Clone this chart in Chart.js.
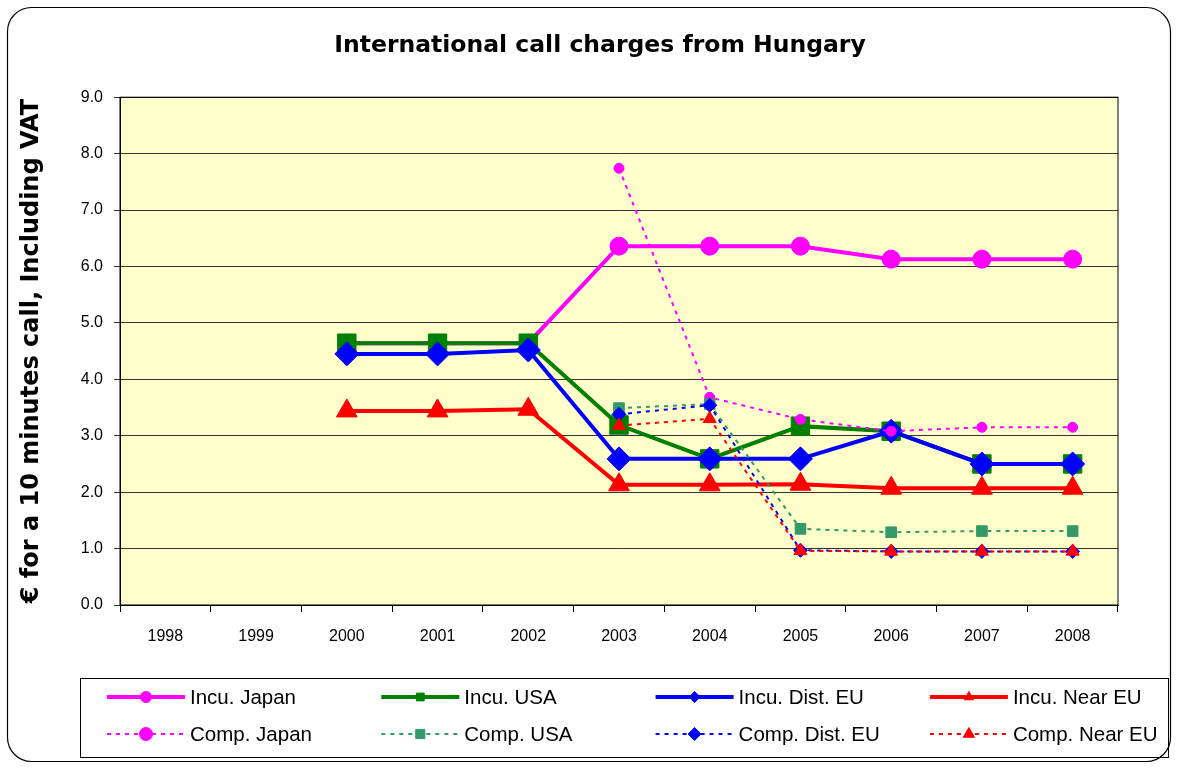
<!DOCTYPE html>
<html>
<head>
<meta charset="utf-8">
<title>International call charges from Hungary</title>
<script src="https://cdn.jsdelivr.net/npm/chart.js@4.4.1/dist/chart.umd.min.js"></script>
<style>
  html, body { margin: 0; padding: 0; background: #fff; }
  canvas { display: block; }
</style>
</head>
<body>
<canvas id="chart" width="1178" height="769"></canvas>
<script>
var years = ['1998', '1999', '2000', '2001', '2002', '2003', '2004', '2005', '2006', '2007', '2008'];

// incumbent operator
var incuJapan  = [null, null, 4.64, 4.64, 4.64, 6.36, 6.36, 6.36, 6.13, 6.13, 6.13];
var incuUsa    = [null, null, 4.64, 4.64, 4.64, 3.19, 2.59, 3.17, 3.08, 2.50, 2.50];
var incuDistEu = [null, null, 4.45, 4.45, 4.52, 2.59, 2.59, 2.59, 3.08, 2.50, 2.50];
var incuNearEu = [null, null, 3.44, 3.44, 3.47, 2.13, 2.13, 2.14, 2.07, 2.07, 2.07];

// competitors
var compJapan  = [null, null, null, null, null, 7.74, 3.68, 3.29, 3.08, 3.15, 3.15];
var compUsa    = [null, null, null, null, null, 3.49, 3.56, 1.35, 1.29, 1.31, 1.31];
var compDistEu = [null, null, null, null, null, 3.38, 3.54, 0.97, 0.95, 0.95, 0.95];
var compNearEu = [null, null, null, null, null, 3.18, 3.30, 0.96, 0.95, 0.95, 0.95];

var yMin = 0, yMax = 9, yStep = 1;

var FONT = '"Liberation Sans", Arial, sans-serif';
var WIDE = '"DejaVu Sans", Verdana, sans-serif';

function series(label, data, color, style, radius, solid) {
  return {
    label: label,
    data: data,
    borderColor: color,
    backgroundColor: color,
    borderWidth: solid ? 4 : 2,
    borderDash: solid ? [] : [4, 5],
    pointStyle: style,
    pointRadius: radius,
    pointHoverRadius: radius,
    pointBackgroundColor: color,
    pointBorderColor: color,
    pointBorderWidth: 1,
    tension: 0
  };
}

var datasets = [
  series('Incu. Japan', incuJapan, '#FF00FF', 'circle', 9, true),
  series('Incu. USA', incuUsa, '#008000', 'rect', 13, true),
  series('Incu. Dist. EU', incuDistEu, '#0000FF', 'rectRot', 12, true),
  series('Incu. Near EU', incuNearEu, '#FF0000', 'triangle', 12, true),
  series('Comp. Japan', compJapan, '#FF00FF', 'circle', 5, false),
  series('Comp. USA', compUsa, '#339966', 'rect', 7.5, false),
  series('Comp. Dist. EU', compDistEu, '#0000FF', 'rectRot', 7, false),
  series('Comp. Near EU', compNearEu, '#FF0000', 'triangle', 7.5, false)
];
// later series sit on top
datasets.forEach(function (d, i) { d.order = datasets.length - i; });

var framePlugin = {
  id: 'frame',
  beforeDraw: function (chart) {
    var c = chart.ctx, a = chart.chartArea;
    c.save();
    c.fillStyle = '#fff';
    c.fillRect(0, 0, chart.width, chart.height);
    c.beginPath();
    c.roundRect(7.5, 7.5, 1163, 754, 24);
    c.lineWidth = 1.2;
    c.strokeStyle = '#000';
    c.stroke();
    c.fillStyle = '#FFFFCC';
    c.fillRect(a.left, a.top, a.right - a.left, a.bottom - a.top);
    c.restore();
  },
  beforeDatasetsDraw: function (chart) {
    var c = chart.ctx, a = chart.chartArea;
    c.save();
    c.lineWidth = 1;
    c.strokeStyle = '#000';
    c.strokeRect(a.left, a.top, a.right - a.left, a.bottom - a.top);
    c.restore();
  },
  afterDraw: function (chart) {
    var c = chart.ctx;
    c.save();
    c.lineWidth = 1;
    c.strokeStyle = '#000';
    c.strokeRect(80.5, 678.5, 1088, 79);
    c.font = '20.5px ' + FONT;
    c.textBaseline = 'middle';
    c.textAlign = 'left';
    chart.data.datasets.forEach(function (d, i) {
      var col = i % 4, row = Math.floor(i / 4);
      var x0 = 107 + col * 274.3, y = row ? 734 : 697;
      c.strokeStyle = d.borderColor;
      c.lineWidth = d.borderWidth;
      c.setLineDash(d.borderDash);
      c.beginPath();
      c.moveTo(x0, y);
      c.lineTo(x0 + 78, y);
      c.stroke();
      c.setLineDash([]);
      c.fillStyle = d.pointBackgroundColor;
      c.strokeStyle = d.pointBorderColor;
      c.lineWidth = 1;
      Chart.helpers.drawPoint(c, {
        pointStyle: d.pointStyle,
        radius: d.borderWidth > 2 ? 5.5 : 6.5,
        rotation: 0,
        borderWidth: 1
      }, x0 + 39, y);
      c.fillStyle = '#000';
      c.fillText(d.label, x0 + 83, y + 1);
    });
    c.restore();
  }
};

new Chart(document.getElementById('chart'), {
  type: 'line',
  data: { labels: years, datasets: datasets },
  options: {
    responsive: false,
    animation: false,
    events: [],
    layout: { padding: { left: 22, right: 0, top: 0, bottom: 110 } },
    plugins: {
      legend: { display: false },
      tooltip: { enabled: false },
      title: {
        display: true,
        text: 'International call charges from Hungary',
        color: '#000',
        font: { family: WIDE, size: 23.5, weight: 'bold' },
        padding: { top: 32, bottom: 37 }
      }
    },
    scales: {
      x: {
        offset: true,
        afterFit: function (s) { s.height = 54; },
        grid: {
          offset: true,
          drawOnChartArea: false,
          drawTicks: true,
          tickLength: 7,
          color: '#000'
        },
        border: { color: '#000' },
        ticks: {
          color: '#000',
          padding: 15,
          maxRotation: 0,
          font: { family: FONT, size: 16 }
        }
      },
      y: {
        min: yMin,
        max: yMax,
        afterFit: function (s) { s.width = 98; },
        grid: {
          color: '#333',
          tickLength: 6
        },
        border: { color: '#000' },
        ticks: {
          stepSize: yStep,
          color: '#000',
          padding: 11,
          font: { family: FONT, size: 16 },
          callback: function (v) { return v.toFixed(1); }
        },
        title: {
          display: true,
          text: '€ for a 10 minutes call, Including VAT',
          color: '#000',
          font: { family: WIDE, size: 24, weight: 'bold' },
          padding: { top: -5, bottom: 0 }
        }
      },
      // empty strip on the right of the plot
      side: {
        axis: 'y',
        position: 'right',
        afterFit: function (s) { s.width = 60; },
        grid: { display: false },
        border: { display: false },
        ticks: { display: false }
      }
    }
  },
  plugins: [framePlugin]
});
</script>
</body>
</html>
